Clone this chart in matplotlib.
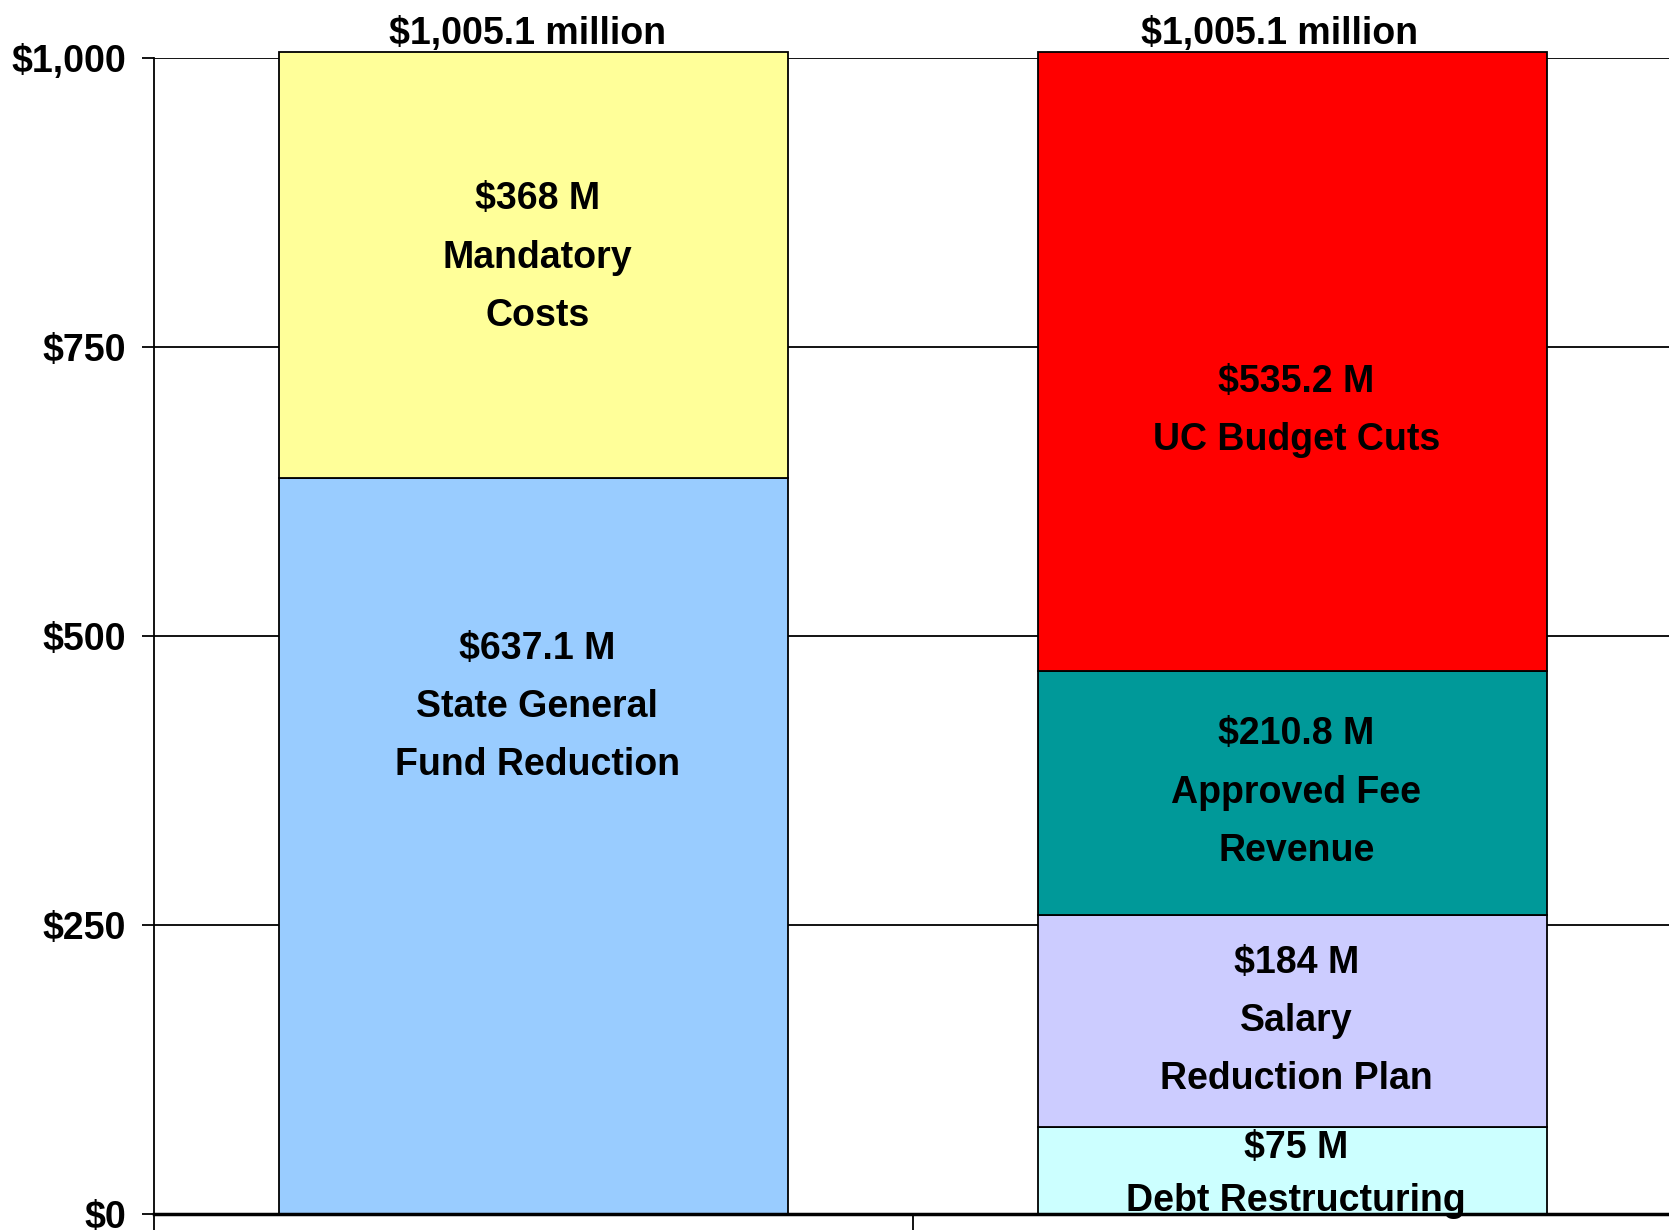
import matplotlib
matplotlib.use("Agg")
import matplotlib.pyplot as plt
from matplotlib.ticker import FuncFormatter

# ---- data ----
categories = ["Budget Gap", "Solutions"]
left_values = [637.1, 368.0]
left_labels = ["$637.1 M\nState General\nFund Reduction", "$368 M\nMandatory\nCosts"]
left_colors = ["#99CCFF", "#FFFF99"]

right_values = [75.0, 184.0, 210.8, 535.2]
right_labels = ["$75 M\nDebt Restructuring", "$184 M\nSalary\nReduction Plan",
                "$210.8 M\nApproved Fee\nRevenue", "$535.2 M\nUC Budget Cuts"]
right_colors = ["#CCFFFF", "#CCCCFF", "#009999", "#FF0000"]

totals_text = ["$1,005.1 million", "$1,005.1 million"]
yticks = [0, 250, 500, 750, 1000]

# label vertical offsets (data units, relative to segment centre) - layout only
left_label_shift = [120, 6]
right_label_shift = [-3, 0, 0, -43]
title_xshift = [-0.008, -0.017]

FONT = ["Liberation Sans Narrow", "Liberation Sans", "DejaVu Sans"]
plt.rcParams["font.family"] = FONT
FS = 27

fig = plt.figure(figsize=(16.69, 12.30), dpi=100)
ax = fig.add_axes([154 / 1669, 16 / 1230, (1672 - 154) / 1669, 1156 / 1230])

width = 0.67

def stack(xpos, values, labels, colors, shifts, spacing):
    bottom = 0.0
    for v, lab, c, s, ls in zip(values, labels, colors, shifts, spacing):
        ax.bar(xpos, v, width=width, bottom=bottom, color=c, edgecolor="black",
               linewidth=1.3, clip_on=False, zorder=3)
        ax.text(xpos + 0.005, bottom + v / 2 + s, lab, ha="center", va="center",
                fontsize=FS, fontweight="bold", linespacing=ls, zorder=5,
                clip_on=False)
        bottom += v
    return bottom

t0 = stack(0, left_values, left_labels, left_colors, left_label_shift, [1.8, 1.8])
t1 = stack(1, right_values, right_labels, right_colors, right_label_shift,
           [1.6, 1.8, 1.8, 1.8])

for xpos, tot, txt, dx in zip([0, 1], [t0, t1], totals_text, title_xshift):
    ax.annotate(txt, (xpos + dx, tot), xytext=(0, 6), textcoords="offset points",
                ha="center", va="baseline", fontsize=FS, fontweight="bold",
                annotation_clip=False)

ax.set_xlim(-0.5, 1.5)
ax.set_ylim(0, 1000)
ax.set_yticks(yticks)
ax.yaxis.set_major_formatter(FuncFormatter(lambda v, p: "${:,.0f}".format(v)))
for lab in ax.get_yticklabels():
    lab.set_fontweight("bold")
    lab.set_fontsize(FS)
ax.tick_params(axis="y", direction="out", length=9, width=1.3, pad=11)

ax.set_xticks([-0.5, 0.5, 1.5])
ax.set_xticklabels([])
ax.tick_params(axis="x", direction="out", length=20, width=1.3)

ax.grid(axis="y", color="black", linewidth=1.3, zorder=1)
ax.set_axisbelow(True)
for side in ["top", "right"]:
    ax.spines[side].set_visible(False)
ax.spines["left"].set_linewidth(1.3)
ax.spines["bottom"].set_linewidth(2.5)
ax.spines["bottom"].set_zorder(6)

fig.savefig("out.png", dpi=100)
